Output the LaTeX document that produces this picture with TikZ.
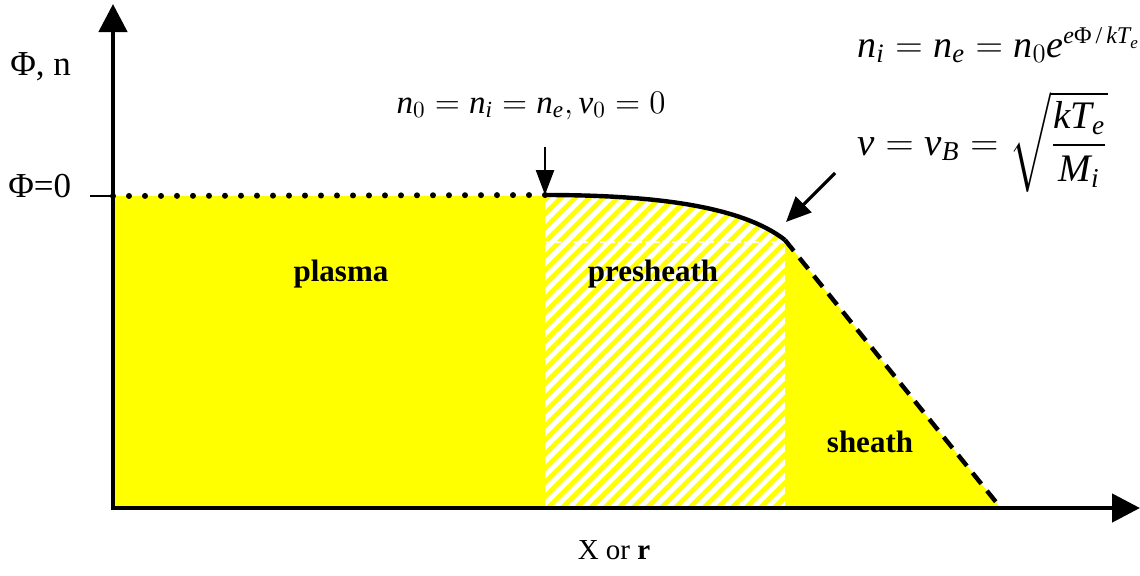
\RequirePackage{fix-cm}
\documentclass[tikz,border=0pt]{standalone}
\usepackage{amsmath}
\usepackage{fontspec}
\setmainfont{Liberation Serif}
\usetikzlibrary{arrows.meta,patterns.meta}
\definecolor{pyellow}{RGB}{255,255,0}
\newcommand\mi[1]{\mathit{#1}}
\tikzset{
  axisline/.style={line width=2.3pt,-{Triangle[length=14pt,width=14pt]}},
  callout/.style={line width=1.2pt,-{Triangle[length=12.5pt,width=9pt]}},
  calloutb/.style={line width=1.6pt,-{Triangle[length=12.5pt,width=11pt]}},
  regionlbl/.style={font=\fontsize{15.5}{18}\selectfont\bfseries,anchor=base,inner sep=0pt},
  eqtext/.style={inner sep=0pt},
  profile/.style={line width=2.2pt,line join=round},
  hatch/.style={pattern={Lines[angle=45,distance=5pt,line width=2.4pt]},pattern color=pyellow},
}
\begin{document}
\begin{tikzpicture}[x=0.5pt,y=-0.5pt]
\useasboundingbox (0,0) rectangle (1140,575);
% key points
\coordinate (origin) at (113,508);
\coordinate (ytip) at (113,4);
\coordinate (xtip) at (1140,508);
\coordinate (p0) at (545,195);
\coordinate (p1) at (785,240);
\coordinate (p2) at (1000,507);
\coordinate (d0) at (113,196);
\coordinate (tick0) at (90,196);
% plasma region
\fill[pyellow] (113,196) rectangle (545,508);
% presheath region
\fill[white] (545,508) -- (p0) .. controls (650,195) and (740,205) .. (p1) -- (785,508) -- cycle;
\fill[hatch] (545,508) -- (p0) .. controls (650,195) and (740,205) .. (p1) -- (785,508) -- cycle;
\draw[white,line width=0.7pt,dash pattern=on 3pt off 1.5pt] (546,242) -- (784,242);
% sheath region
\fill[pyellow] (p1) -- (p2) -- (785,508) -- cycle;
% profile
\draw[line width=3pt,line cap=round,dash pattern=on 0pt off 8pt] (d0) -- (p0);
\draw[profile] (p0) .. controls (650,195) and (740,205) .. (p1);
\draw[line width=2.2pt,dash pattern=on 7pt off 4.5pt] (p1) -- (p2);
% axes
\draw[line width=1pt] (tick0) -- (d0);
\draw[axisline] (113,510) -- (ytip);
\draw[axisline] (111,508) -- (xtip);
% callouts
\coordinate (a1s) at (545,147);
\coordinate (a2s) at (835,173);
\coordinate (a2e) at (786,222);
\draw[callout] (a1s) -- (p0);
\draw[calloutb] (a2s) -- (a2e);
% labels
\node[regionlbl] (plasma) at (341,281) {plasma};
\node[regionlbl] (presheath) at (653,281) {presheath};
\node[regionlbl] (sheath) at (870,452) {sheath};
\node[anchor=base,inner sep=0pt,font=\fontsize{14.5}{17}\selectfont] (xlab) at (614,559) {X or \textbf{r}};
\node[anchor=base west,inner sep=0pt,font=\fontsize{17.5}{20}\selectfont] (ylab) at (10,75) {Φ, n};
\node[anchor=base west,inner sep=0pt,font=\fontsize{17.5}{20}\selectfont] (zerolab) at (8,197) {Φ=0};
\node[eqtext,anchor=base,font=\fontsize{16.5}{19}\selectfont] (eqa) at (531,113)
  {$\mi{n}_0=\mi{n}_{\mi{i}}=\mi{n}_{\mi{e}},\mi{v}_0=0$};
\node[eqtext,anchor=base west,font=\fontsize{19}{23}\selectfont] (eqb) at (857,57)
  {$\mi{n}_{\mi{i}}=\mi{n}_{\mi{e}}=\mi{n}_0\mi{e}^{\mbox{\fontsize{12}{14}\selectfont\itshape e\upshape Φ\,/\,\itshape kT\raisebox{-0.2em}{\fontsize{8.5}{10}\selectfont e}}}$};
\node[eqtext,anchor=base west,font=\fontsize{19.5}{23}\selectfont] (eqc) at (857,155)
  {$\mi{v}=\mi{v}_{\mi{B}}=\sqrt{\dfrac{\mi{kT}_{\mi{e}}}{\mi{M}_{\mi{i}}}}$};
\end{tikzpicture}
\end{document}
